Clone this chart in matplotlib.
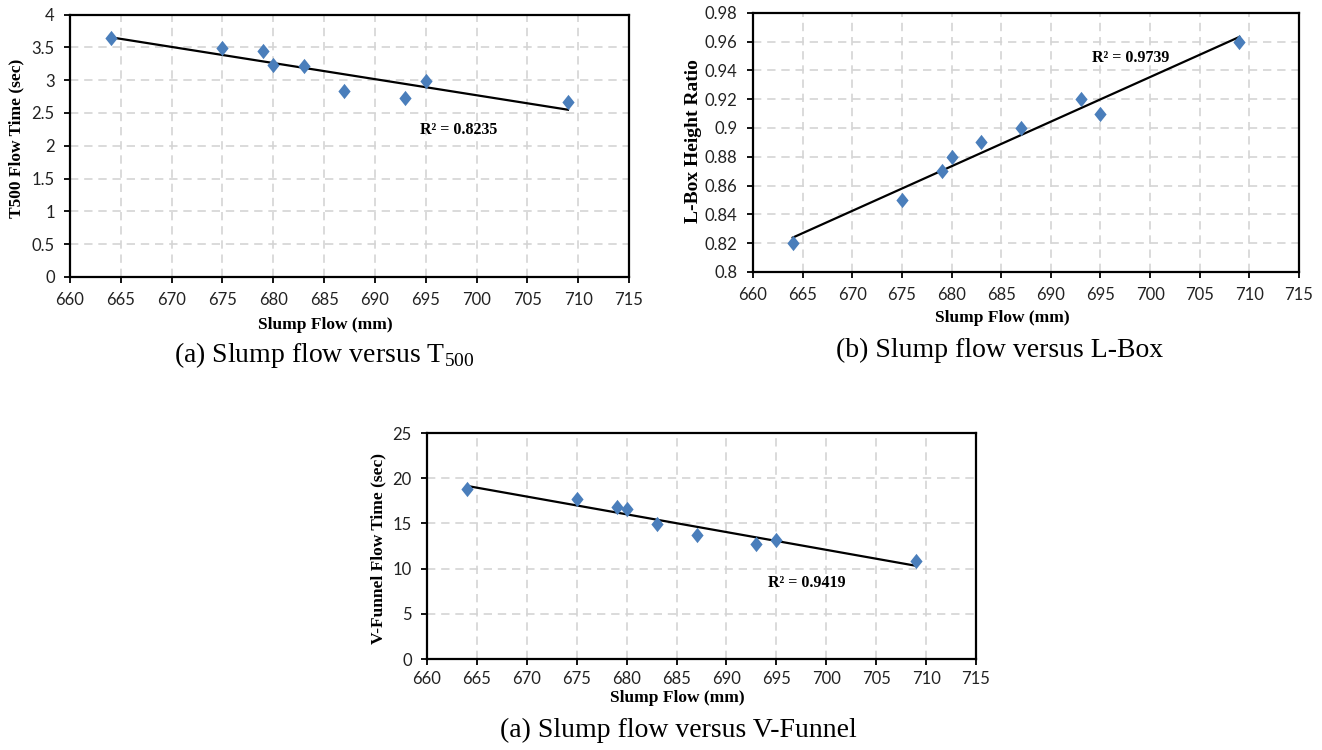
import numpy as np
import matplotlib
matplotlib.use("Agg")
import matplotlib.pyplot as plt
from matplotlib.ticker import FuncFormatter, MultipleLocator

plt.rcParams["mathtext.fontset"] = "custom"
plt.rcParams["mathtext.rm"] = "Liberation Serif"

# ===============================
# Data
# ===============================
slump_flow = [664, 675, 679, 680, 683, 687, 693, 695, 709]
t500_time = [3.64, 3.49, 3.45, 3.23, 3.21, 2.83, 2.73, 2.99, 2.67]
lbox_ratio = [0.82, 0.85, 0.87, 0.88, 0.89, 0.90, 0.92, 0.91, 0.96]
vfunnel_time = [18.8, 17.7, 16.8, 16.6, 14.9, 13.7, 12.7, 13.2, 10.8]

r2_labels = ["R² = 0.8235", "R² = 0.9739", "R² = 0.9419"]
y_labels = ["T500 Flow Time (sec)", "L-Box Height Ratio", "V-Funnel Flow Time (sec)"]
captions = [r"(a) Slump flow versus T$_{\mathrm{500}}$",
            "(b) Slump flow versus L-Box",
            "(a) Slump flow versus V-Funnel"]

W, H = 1322, 750
fig = plt.figure(figsize=(W / 100, H / 100), dpi=100)

# slightly tall diamond, like the Excel marker
diamond = [(0, 1), (0.8, 0), (0, -1), (-0.8, 0), (0, 1)]
tick_font = "Lato"


def px_axes(l, t, r, b):
    return fig.add_axes([l / W, 1 - b / H, (r - l) / W, (b - t) / H])


def fmt(v, pos):
    return "%g" % round(v, 4)


def draw_panel(ax, x, y, ylim, ystep, r2, r2_pos, xpad):
    ax.set_xlim(660, 715)
    ax.set_ylim(*ylim)
    ax.xaxis.set_major_locator(MultipleLocator(5))
    ax.yaxis.set_major_locator(MultipleLocator(ystep))
    ax.yaxis.set_major_formatter(FuncFormatter(fmt))
    ax.grid(True, color="#d4d4d4", linestyle=(0, (5, 3.5)), linewidth=1.2)
    ax.set_axisbelow(True)
    for s in ax.spines.values():
        s.set_linewidth(1.6)
        s.set_color("black")
    ax.tick_params(direction="out", length=4, width=1.3, labelsize=12,
                   colors="black")
    ax.tick_params(axis="x", pad=xpad)
    ax.tick_params(axis="y", pad=7)
    for lab in ax.get_xticklabels() + ax.get_yticklabels():
        lab.set_family(tick_font)
        lab.set_color("#222222")

    # linear trendline
    k, c = np.polyfit(x, y, 1)
    xs = np.array([min(x), max(x)])
    ax.plot(xs, k * xs + c, color="black", lw=1.6, zorder=3)
    ax.plot(x, y, linestyle="none", marker=diamond, markersize=11,
            color="#4a7ebb", markeredgewidth=0, zorder=4)
    ax.text(r2_pos[0], r2_pos[1], r2, family="Liberation Serif",
            fontweight="bold", fontsize=11.5, va="center", ha="left")


ax_a = px_axes(70, 14.5, 629, 277)
draw_panel(ax_a, slump_flow, t500_time, (0, 4), 0.5, r2_labels[0], (694.4, 2.24), 7)

ax_b = px_axes(753, 12.7, 1299, 272)
draw_panel(ax_b, slump_flow, lbox_ratio, (0.8, 0.98), 0.02, r2_labels[1], (694.1, 0.9486), 6.5)

ax_c = px_axes(427, 433, 976, 659)
draw_panel(ax_c, slump_flow, vfunnel_time, (0, 25), 5, r2_labels[2], (694.2, 8.4), 5)


def ftext(x, y, s, **kw):
    fig.text(x / W, 1 - y / H, s, ha="center", va="center", **kw)


# axis titles
lab_kw = dict(family="Liberation Serif", fontweight="bold")
ftext(325, 325, "Slump Flow (mm)", fontsize=12.5, **lab_kw)
ftext(1002, 318, "Slump Flow (mm)", fontsize=12.5, **lab_kw)
ftext(677, 698, "Slump Flow (mm)", fontsize=12.5, **lab_kw)
ftext(16, 138, y_labels[0], rotation=90, fontsize=12.5, **lab_kw)
ftext(694, 141, y_labels[1], rotation=90, fontsize=14, **lab_kw)
ftext(378, 548, y_labels[2], rotation=90, fontsize=12.5, **lab_kw)

# captions
cap_kw = dict(family="Liberation Serif", fontsize=20)
ftext(324, 355, captions[0], **cap_kw)
ftext(1000, 350, captions[1], **cap_kw)
ftext(678, 730, captions[2], **cap_kw)

fig.savefig("out.png", dpi=100)
